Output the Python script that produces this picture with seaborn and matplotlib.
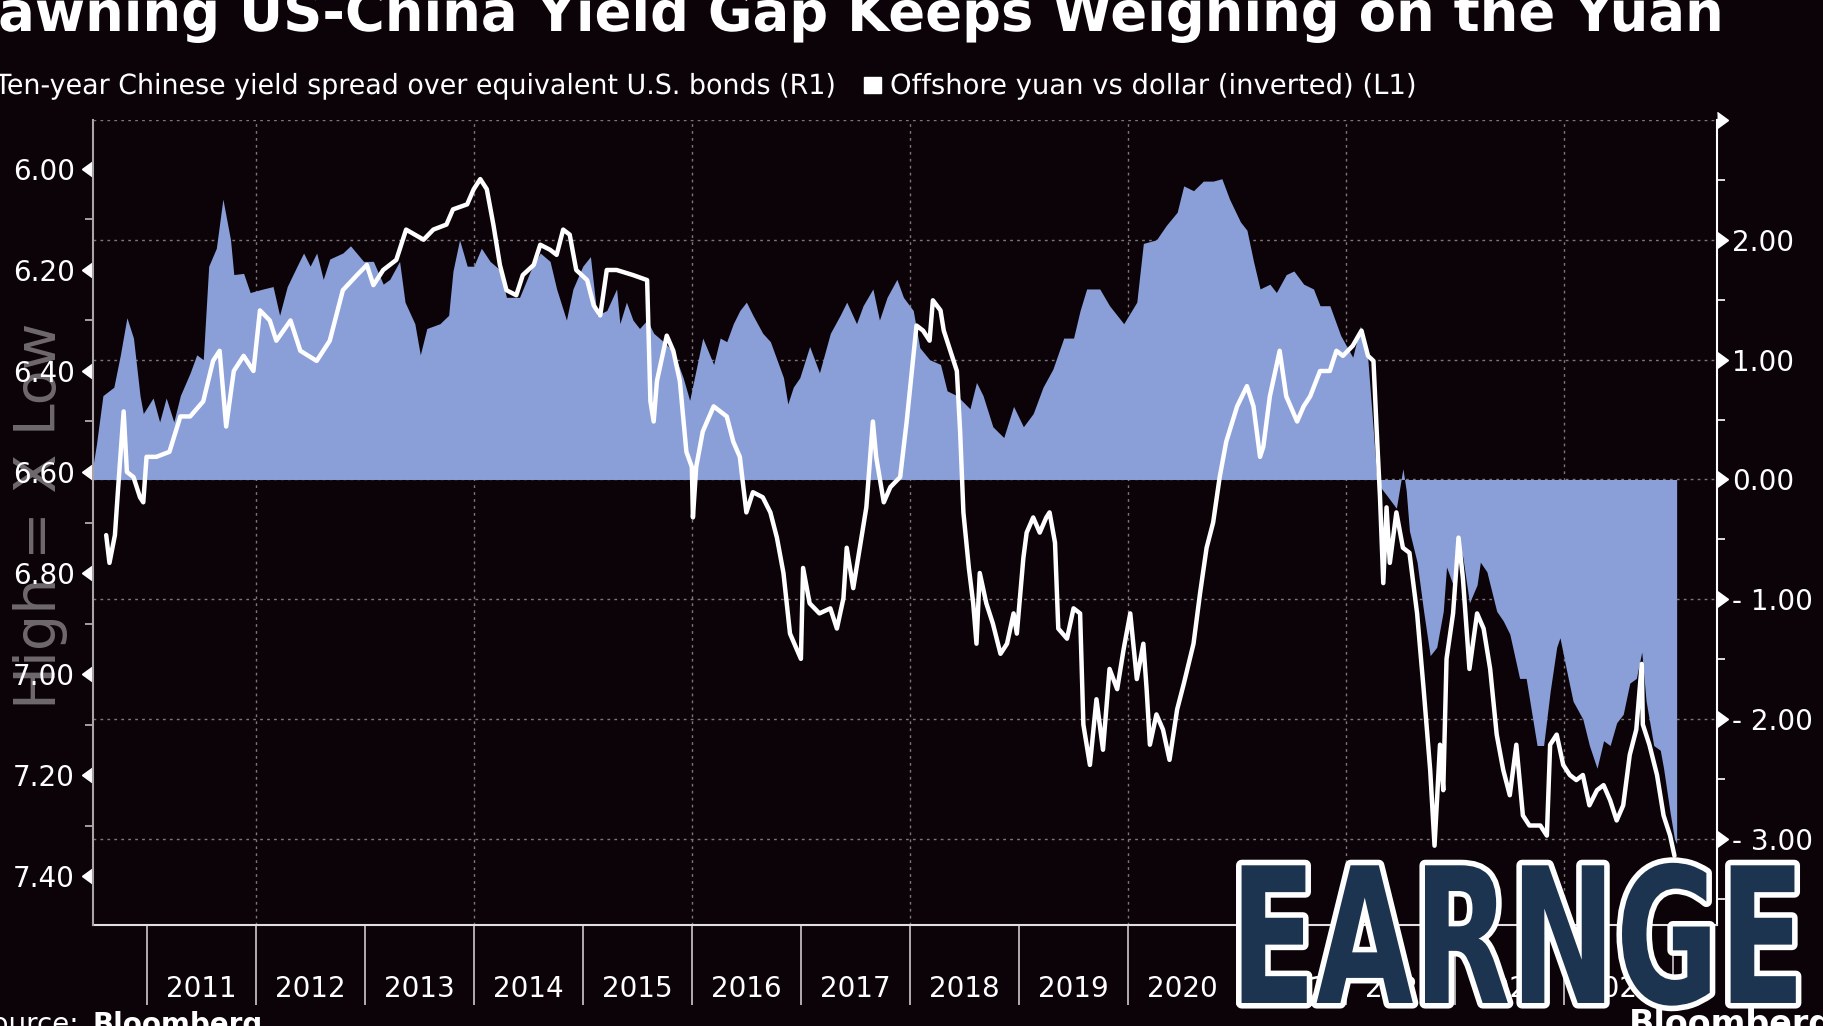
import matplotlib
matplotlib.use("Agg")
import matplotlib.pyplot as plt
import matplotlib.patheffects as pe
from matplotlib.patches import Rectangle
from matplotlib.transforms import Affine2D
from matplotlib.ticker import MultipleLocator, FuncFormatter
from matplotlib.markers import CARETLEFTBASE, CARETRIGHTBASE
import seaborn as sns

# ---- data (x = decimal year) ----
spread_years = [2010.51, 2010.54, 2010.60, 2010.70, 2010.76, 2010.82, 2010.88, 2010.94, 2010.97, 2011.06,
                2011.12, 2011.18, 2011.25, 2011.31, 2011.40, 2011.46, 2011.52, 2011.57, 2011.64, 2011.70,
                2011.77, 2011.80, 2011.89, 2011.95, 2012.07, 2012.16, 2012.22, 2012.29, 2012.38, 2012.44,
                2012.50, 2012.56, 2012.62, 2012.68, 2012.80, 2012.87, 2012.99, 2013.08, 2013.17, 2013.23,
                2013.32, 2013.37, 2013.46, 2013.51, 2013.57, 2013.69, 2013.77, 2013.81, 2013.87, 2013.94,
                2014.00, 2014.07, 2014.15, 2014.24, 2014.30, 2014.42, 2014.52, 2014.61, 2014.70, 2014.76,
                2014.85, 2014.91, 2015.00, 2015.07, 2015.13, 2015.22, 2015.31, 2015.34, 2015.40, 2015.46,
                2015.52, 2015.59, 2015.65, 2015.74, 2015.83, 2015.92, 2015.98, 2016.04, 2016.10, 2016.20,
                2016.26, 2016.32, 2016.38, 2016.44, 2016.50, 2016.56, 2016.65, 2016.72, 2016.78, 2016.84,
                2016.88, 2016.93, 2016.99, 2017.08, 2017.17, 2017.27, 2017.36, 2017.42, 2017.51, 2017.57,
                2017.66, 2017.72, 2017.79, 2017.88, 2017.94, 2018.03, 2018.09, 2018.18, 2018.28, 2018.34,
                2018.43, 2018.55, 2018.61, 2018.67, 2018.76, 2018.86, 2018.95, 2019.04, 2019.13, 2019.22,
                2019.31, 2019.41, 2019.50, 2019.56, 2019.62, 2019.74, 2019.83, 2019.96, 2020.08, 2020.14,
                2020.26, 2020.35, 2020.45, 2020.51, 2020.60, 2020.69, 2020.78, 2020.86, 2020.93, 2021.03,
                2021.09, 2021.15, 2021.21, 2021.30, 2021.36, 2021.45, 2021.52, 2021.61, 2021.70, 2021.76,
                2021.85, 2021.95, 2022.06, 2022.13, 2022.19, 2022.25, 2022.28, 2022.31, 2022.37, 2022.46,
                2022.52, 2022.55, 2022.58, 2022.65, 2022.71, 2022.77, 2022.83, 2022.89, 2022.92, 2022.98,
                2023.01, 2023.07, 2023.13, 2023.20, 2023.23, 2023.29, 2023.38, 2023.44, 2023.50, 2023.59,
                2023.65, 2023.75, 2023.81, 2023.87, 2023.93, 2023.96, 2024.02, 2024.08, 2024.17, 2024.23,
                2024.30, 2024.36, 2024.42, 2024.48, 2024.54, 2024.60, 2024.66, 2024.71, 2024.75, 2024.82,
                2024.88, 2024.91, 2024.97, 2025.01, 2025.03]
spread_values = [0.12, 0.29, 0.70, 0.77, 1.04, 1.35, 1.18, 0.70, 0.55, 0.68,
                 0.48, 0.68, 0.48, 0.70, 0.89, 1.04, 1.00, 1.78, 1.93, 2.34,
                 2.00, 1.71, 1.72, 1.56, 1.59, 1.61, 1.37, 1.61, 1.78, 1.89,
                 1.78, 1.89, 1.67, 1.84, 1.89, 1.95, 1.82, 1.82, 1.63, 1.67,
                 1.82, 1.48, 1.30, 1.04, 1.26, 1.30, 1.37, 1.74, 2.00, 1.78,
                 1.78, 1.93, 1.82, 1.75, 1.52, 1.52, 1.74, 1.89, 1.82, 1.59,
                 1.33, 1.59, 1.78, 1.86, 1.37, 1.41, 1.59, 1.30, 1.48, 1.33,
                 1.26, 1.33, 1.22, 1.15, 1.07, 0.85, 0.66, 0.92, 1.18, 0.96,
                 1.18, 1.15, 1.30, 1.41, 1.48, 1.37, 1.22, 1.15, 1.00, 0.85,
                 0.63, 0.77, 0.85, 1.11, 0.89, 1.22, 1.37, 1.48, 1.30, 1.45,
                 1.59, 1.33, 1.52, 1.67, 1.52, 1.41, 1.10, 1.00, 0.96, 0.74,
                 0.70, 0.59, 0.81, 0.70, 0.44, 0.35, 0.61, 0.44, 0.55, 0.77,
                 0.92, 1.18, 1.18, 1.41, 1.59, 1.59, 1.45, 1.30, 1.48, 1.97,
                 2.00, 2.12, 2.23, 2.45, 2.41, 2.49, 2.49, 2.51, 2.34, 2.15,
                 2.08, 1.82, 1.59, 1.63, 1.56, 1.71, 1.74, 1.63, 1.59, 1.45,
                 1.45, 1.20, 1.02, 1.28, 1.10, 0.39, 0.02, -0.06, -0.13, -0.24,
                 0.09, -0.09, -0.43, -0.69, -1.10, -1.47, -1.40, -1.10, -0.73, -0.88,
                 -0.50, -0.65, -1.03, -0.88, -0.69, -0.77, -1.10, -1.18, -1.29, -1.66,
                 -1.66, -2.22, -2.22, -1.77, -1.40, -1.32, -1.59, -1.85, -2.00, -2.22,
                 -2.41, -2.18, -2.22, -2.03, -1.96, -1.70, -1.66, -1.44, -1.85, -2.22,
                 -2.26, -2.41, -2.78, -3.00, -3.04]

cnh_years = [2010.63, 2010.66, 2010.71, 2010.74, 2010.79, 2010.82, 2010.88, 2010.94, 2010.97, 2011.00,
             2011.09, 2011.21, 2011.31, 2011.40, 2011.52, 2011.61, 2011.67, 2011.73, 2011.80, 2011.89,
             2011.98, 2012.04, 2012.13, 2012.19, 2012.32, 2012.41, 2012.56, 2012.68, 2012.80, 2012.93,
             2013.02, 2013.08, 2013.17, 2013.29, 2013.38, 2013.54, 2013.63, 2013.75, 2013.81, 2013.94,
             2014.00, 2014.06, 2014.12, 2014.18, 2014.24, 2014.30, 2014.39, 2014.45, 2014.55, 2014.61,
             2014.70, 2014.76, 2014.82, 2014.88, 2014.94, 2015.04, 2015.10, 2015.16, 2015.22, 2015.31,
             2015.46, 2015.59, 2015.62, 2015.65, 2015.68, 2015.74, 2015.77, 2015.83, 2015.89, 2015.95,
             2016.00, 2016.01, 2016.04, 2016.10, 2016.20, 2016.32, 2016.38, 2016.44, 2016.50, 2016.56,
             2016.65, 2016.72, 2016.78, 2016.84, 2016.90, 2016.96, 2017.00, 2017.02, 2017.08, 2017.17,
             2017.27, 2017.33, 2017.39, 2017.42, 2017.48, 2017.54, 2017.60, 2017.66, 2017.69, 2017.76,
             2017.82, 2017.91, 2017.97, 2018.06, 2018.12, 2018.18, 2018.21, 2018.28, 2018.31, 2018.37,
             2018.43, 2018.46, 2018.49, 2018.54, 2018.58, 2018.61, 2018.64, 2018.70, 2018.76, 2018.83,
             2018.89, 2018.95, 2018.98, 2019.04, 2019.07, 2019.13, 2019.19, 2019.25, 2019.28, 2019.33,
             2019.36, 2019.44, 2019.50, 2019.56, 2019.59, 2019.65, 2019.71, 2019.77, 2019.83, 2019.90,
             2019.96, 2020.02, 2020.08, 2020.14, 2020.17, 2020.20, 2020.26, 2020.32, 2020.38, 2020.45,
             2020.51, 2020.60, 2020.66, 2020.72, 2020.78, 2020.84, 2020.90, 2021.00, 2021.09, 2021.15,
             2021.21, 2021.24, 2021.30, 2021.39, 2021.45, 2021.55, 2021.61, 2021.67, 2021.76, 2021.85,
             2021.91, 2021.97, 2022.06, 2022.14, 2022.20, 2022.25, 2022.28, 2022.31, 2022.34, 2022.37,
             2022.40, 2022.46, 2022.52, 2022.58, 2022.65, 2022.71, 2022.77, 2022.81, 2022.86, 2022.89,
             2022.92, 2022.98, 2023.03, 2023.07, 2023.13, 2023.20, 2023.26, 2023.32, 2023.38, 2023.44,
             2023.50, 2023.56, 2023.62, 2023.68, 2023.78, 2023.84, 2023.87, 2023.93, 2023.99, 2024.05,
             2024.11, 2024.17, 2024.23, 2024.30, 2024.36, 2024.42, 2024.48, 2024.54, 2024.60, 2024.66,
             2024.71, 2024.72, 2024.78, 2024.85, 2024.91, 2024.97, 2025.01]
cnh_values = [6.725, 6.78, 6.725, 6.63, 6.48, 6.60, 6.61, 6.65, 6.66, 6.57,
              6.57, 6.56, 6.49, 6.49, 6.46, 6.38, 6.36, 6.51, 6.40, 6.37,
              6.40, 6.28, 6.30, 6.34, 6.30, 6.36, 6.38, 6.34, 6.24, 6.21,
              6.19, 6.23, 6.20, 6.18, 6.12, 6.14, 6.12, 6.11, 6.08, 6.07,
              6.04, 6.02, 6.04, 6.11, 6.19, 6.24, 6.25, 6.21, 6.19, 6.15,
              6.16, 6.17, 6.12, 6.13, 6.20, 6.22, 6.27, 6.29, 6.20, 6.20,
              6.21, 6.22, 6.46, 6.50, 6.42, 6.36, 6.33, 6.36, 6.42, 6.56,
              6.59, 6.69, 6.59, 6.52, 6.47, 6.49, 6.54, 6.57, 6.68, 6.64,
              6.65, 6.68, 6.73, 6.80, 6.92, 6.95, 6.97, 6.79, 6.86, 6.88,
              6.87, 6.91, 6.85, 6.75, 6.83, 6.75, 6.67, 6.50, 6.57, 6.66,
              6.63, 6.61, 6.50, 6.31, 6.32, 6.34, 6.26, 6.28, 6.32, 6.36,
              6.40, 6.52, 6.68, 6.79, 6.86, 6.94, 6.80, 6.86, 6.90, 6.96,
              6.94, 6.88, 6.92, 6.77, 6.72, 6.69, 6.72, 6.69, 6.68, 6.74,
              6.91, 6.93, 6.87, 6.88, 7.10, 7.18, 7.05, 7.15, 6.99, 7.03,
              6.95, 6.88, 7.01, 6.94, 7.03, 7.14, 7.08, 7.11, 7.17, 7.07,
              7.02, 6.94, 6.84, 6.75, 6.70, 6.61, 6.54, 6.47, 6.43, 6.47,
              6.57, 6.55, 6.45, 6.36, 6.45, 6.50, 6.47, 6.45, 6.40, 6.40,
              6.36, 6.37, 6.35, 6.32, 6.37, 6.38, 6.52, 6.65, 6.82, 6.67,
              6.78, 6.68, 6.75, 6.76, 6.88, 7.03, 7.19, 7.34, 7.14, 7.23,
              6.97, 6.88, 6.73, 6.81, 6.99, 6.88, 6.91, 6.99, 7.12, 7.19,
              7.24, 7.14, 7.28, 7.30, 7.30, 7.32, 7.14, 7.12, 7.18, 7.20,
              7.21, 7.20, 7.26, 7.23, 7.22, 7.25, 7.29, 7.26, 7.16, 7.11,
              6.98, 7.10, 7.14, 7.20, 7.28, 7.32, 7.36]

year_starts = list(range(2011, 2026))
year_labels = [str(y) for y in range(2011, 2025)]

title = "Yawning US-China Yield Gap Keeps Weighing on the Yuan"
spread_label = "Ten-year Chinese yield spread over equivalent U.S. bonds (R1)"
cnh_label = "Offshore yuan vs dollar (inverted) (L1)"
side_note = "High = X Low"

BG = "#0b0307"
BLUE = "#8a9fd8"
GRID = "#7c7579"
W, H = 1824, 1026


def fx(px):
    return px / W


def fy(py):
    return 1 - py / H


# squeezes a text horizontally around x0 (display px), the source font is condensed
class Squeeze(pe.Stroke):
    def __init__(self, sx, x0, **kw):
        super().__init__(**kw)
        self.sx, self.x0 = sx, x0

    def draw_path(self, renderer, gc, tpath, affine, rgbFace):
        sq = Affine2D().translate(-self.x0, 0).scale(self.sx, 1).translate(self.x0, 0)
        super().draw_path(renderer, gc, tpath, affine + sq, rgbFace)


sns.set_theme(style="ticks", rc={"figure.facecolor": BG, "axes.facecolor": BG,
                                 "savefig.facecolor": BG, "text.color": "white"})
plt.rcParams["font.family"] = ["DejaVu Sans"]

fig = plt.figure(figsize=(W / 100, H / 100), dpi=100)
ax_r = fig.add_axes([fx(93), fy(925), (1717 - 93) / W, (925 - 120) / H])
ax_l = ax_r.twinx()

# spread area (right axis) and yuan line (left axis, inverted)
ax_r.fill_between(spread_years, spread_values, 0, color=BLUE, linewidth=0, zorder=2)
sns.lineplot(x=cnh_years, y=cnh_values, ax=ax_l, color="white", linewidth=3.2)

ax_r.set_xlim(2010.509, 2025.40)
ax_l.set_xlabel("")
ax_l.set_ylabel("")

ax_r.yaxis.set_ticks_position("right")
ax_l.yaxis.set_ticks_position("left")
ax_r.yaxis.set_label_position("right")
ax_l.yaxis.set_label_position("left")

# y axes
ax_r.yaxis.set_major_locator(MultipleLocator(1))
ax_r.yaxis.set_minor_locator(MultipleLocator(0.5))
ax_r.yaxis.set_major_formatter(FuncFormatter(
    lambda v, p: "" if v > 2.99 else f"{v:.2f}".replace("-", "- ")))
ax_l.yaxis.set_major_locator(MultipleLocator(0.2))
ax_l.yaxis.set_minor_locator(MultipleLocator(0.1))
ax_l.yaxis.set_major_formatter(FuncFormatter(lambda v, p: f"{v:.2f}"))

ax_l.tick_params(axis="y", which="major", length=0, pad=13, labelsize=20, labelcolor="white")
ax_l.tick_params(axis="y", which="minor", length=6, width=1.2, color="#c0b9bd", direction="out")
ax_r.tick_params(axis="y", which="major", length=0, pad=11, labelsize=20, labelcolor="white")
ax_r.tick_params(axis="y", which="minor", length=6, width=1.2, color="white", direction="out")

ax_r.set_ylim(-3.718, 3.0)
ax_l.set_ylim(7.497, 5.903)

# arrow-shaped major ticks
lt = [t for t in ax_l.get_yticks() if 5.903 <= t <= 7.497]
rt = [t for t in ax_r.get_yticks() if -3.718 <= t <= 3.0]
ax_l.plot([0] * len(lt), lt, ls="none", marker=CARETLEFTBASE, ms=11, color="white",
          transform=ax_l.get_yaxis_transform(), clip_on=False)
ax_r.plot([1] * len(rt), rt, ls="none", marker=CARETRIGHTBASE, ms=11, color="white",
          transform=ax_r.get_yaxis_transform(), clip_on=False)
ax_r.set_ylim(-3.718, 3.0)
ax_l.set_ylim(7.497, 5.903)

# x axis: year separators, labels in the middle of each year
ax_r.set_xticks(year_starts)
ax_r.set_xticks([y + 0.5 for y in year_starts[:-1]], minor=True)
ax_r.set_xticklabels(year_labels, minor=True)
ax_r.tick_params(axis="x", which="major", length=57.6, width=1.3, color="#bfb9bd",
                 direction="out", labelbottom=False)
ax_r.tick_params(axis="x", which="minor", length=0, pad=36, labelsize=20, labelcolor="white")

# grid
ax_r.set_axisbelow(True)
ax_l.grid(False)
ax_r.xaxis.grid(False)
ax_r.yaxis.grid(True, which="major", color=GRID, linestyle=(0, (2, 3)), linewidth=1)
for yr in year_starts[1::2]:
    ax_r.axvline(yr, color=GRID, linestyle=(0, (2, 3)), linewidth=1, zorder=0.5)

for sp in ["top", "left"]:
    ax_r.spines[sp].set_visible(False)
for sp in ["top", "right", "bottom"]:
    ax_l.spines[sp].set_visible(False)
ax_r.spines["right"].set_color("white")
ax_r.spines["right"].set_linewidth(1.5)
ax_r.spines["bottom"].set_color("#e2dee0")
ax_r.spines["bottom"].set_linewidth(1.5)
ax_l.spines["left"].set_color("#aaa3a8")
ax_l.spines["left"].set_linewidth(1.5)

# ---- texts ----
renderer = fig.canvas.get_renderer()


def text_width(s, **kw):
    t = fig.text(0, 0, s, **kw)
    w = t.get_window_extent(renderer).width
    t.remove()
    return w


t_kw = dict(fontsize=40, fontweight="bold", color="white")
title_txt = fig.text(fx(1722), fy(31), title, ha="right", va="baseline", **t_kw)
title_txt.set_path_effects([Squeeze(1724 / text_width(title[1:], **t_kw), 1722)])

l_kw = dict(fontsize=20, color="white")
cnh_txt = fig.text(fx(890), fy(94), cnh_label, ha="left", va="baseline", **l_kw)
cnh_txt.set_path_effects([Squeeze(526 / text_width(cnh_label, **l_kw), 890)])
spread_txt = fig.text(fx(835), fy(94), spread_label, ha="right", va="baseline", **l_kw)
spread_txt.set_path_effects([Squeeze(840 / text_width(spread_label, **l_kw), 835)])
fig.add_artist(Rectangle((fx(864), fy(93)), 17 / W, 16 / H, transform=fig.transFigure,
                         color="white"))
fig.add_artist(Rectangle((fx(-30), fy(93)), 17 / W, 16 / H, transform=fig.transFigure,
                         color=BLUE))

note_size = 40 * 386 / text_width(side_note, fontsize=40)
fig.text(fx(41), fy(516), side_note, rotation=90, ha="center", va="center",
         fontsize=note_size, color="#6f686d", zorder=-1)

fig.text(fx(88), fy(1033), "Source: ", ha="right", va="baseline", fontsize=20, color="white")
fig.text(fx(93), fy(1033), "Bloomberg", ha="left", va="baseline", fontsize=20,
         fontweight="bold", color="white")
fig.text(fx(1629), fy(1034), "Bloomberg", ha="left", va="baseline", fontsize=24,
         fontweight="bold", color="white")

wm_kw = dict(fontsize=136, fontweight="bold", color="#1c3450")
wm = fig.text(fx(1230), fy(1003), "EARNGE", ha="left", va="baseline", zorder=10, **wm_kw)
sxw = 575 / text_width("EARNGE", **wm_kw)
wm.set_path_effects([Squeeze(sxw, 1230, linewidth=8, foreground="white"), Squeeze(sxw, 1230)])

fig.savefig("out.png", dpi=100, facecolor=BG)
